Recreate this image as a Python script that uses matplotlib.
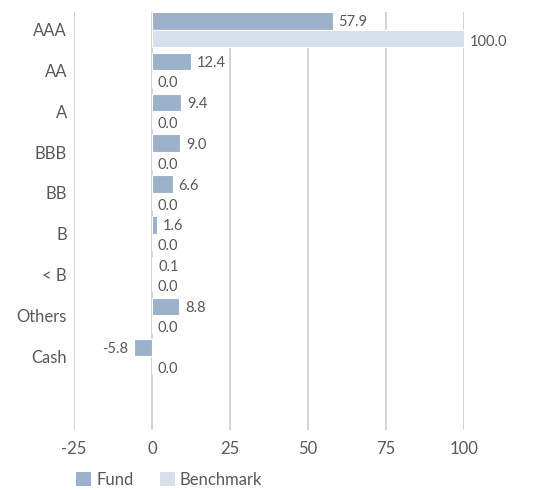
import matplotlib
matplotlib.use("Agg")
import matplotlib.pyplot as plt
import numpy as np
from matplotlib.patches import Patch

categories = ["AAA", "AA", "A", "BBB", "BB", "B", "< B", "Others", "Cash"]
fund = [57.9, 12.4, 9.4, 9.0, 6.6, 1.6, 0.1, 8.8, -5.8]
benchmark = [100.0, 0.0, 0.0, 0.0, 0.0, 0.0, 0.0, 0.0, 0.0]
xticks = [-25, 0, 25, 50, 75, 100]

fund_color = "#9bb1cb"
bench_color = "#d6e0ea"
text_color = "#595959"
grid_color = "#cccccc"

plt.rcParams['font.family'] = ['Lato', 'DejaVu Sans']

fig = plt.figure(figsize=(5.34, 4.9), dpi=100)
ax = fig.add_axes([74/534, 1-430/490, (464-74)/534, (430-12)/490])

y = np.arange(len(categories))
h = 0.43
off = 0.215
ax.barh(y - off, fund, height=h, color=fund_color, edgecolor="white", linewidth=0.8, zorder=3)
ax.barh(y + off, benchmark, height=h, color=bench_color, edgecolor="white", linewidth=0.8, zorder=3)

for yi, v in zip(y, fund):
    if v >= 0:
        ax.annotate(f"{v:.1f}", (v, yi - off), xytext=(4.2, 0), textcoords="offset points",
                    ha="left", va="center_baseline", fontsize=10.5, color=text_color, zorder=4)
    else:
        ax.annotate(f"{v:.1f}", (v, yi - off), xytext=(-4.2, 0), textcoords="offset points",
                    ha="right", va="center_baseline", fontsize=10.5, color=text_color, zorder=4)
for yi, v in zip(y, benchmark):
    ax.annotate(f"{v:.1f}", (v, yi + off + 0.06), xytext=(4.2, 0), textcoords="offset points",
                ha="left", va="center_baseline", fontsize=10.5, color=text_color, zorder=4)

ax.set_xlim(-25, 100)
ax.set_ylim(9.81, -0.431)
ax.set_xticks(xticks)
ax.set_xticklabels([str(t) for t in xticks])
ax.set_yticks(y)
ax.set_yticklabels(categories)
ax.tick_params(axis="both", length=0, labelsize=12, colors=text_color)
ax.tick_params(axis="y", pad=5)
ax.tick_params(axis="x", pad=8)
for s in ax.spines.values():
    s.set_visible(False)
ax.grid(axis="x", color=grid_color, linewidth=1.2, zorder=0)
ax.set_axisbelow(True)

handles = [Patch(facecolor=fund_color, label="Fund"), Patch(facecolor=bench_color, label="Benchmark")]
fig.legend(handles=handles, loc="center left", bbox_to_anchor=(76/534, 1-480/490), ncol=2,
           frameon=False, fontsize=12, handlelength=0.9, handleheight=0.9,
           handletextpad=0.3, columnspacing=1.6, labelcolor=text_color, borderaxespad=0, borderpad=0)

fig.savefig("out.png", dpi=100)
